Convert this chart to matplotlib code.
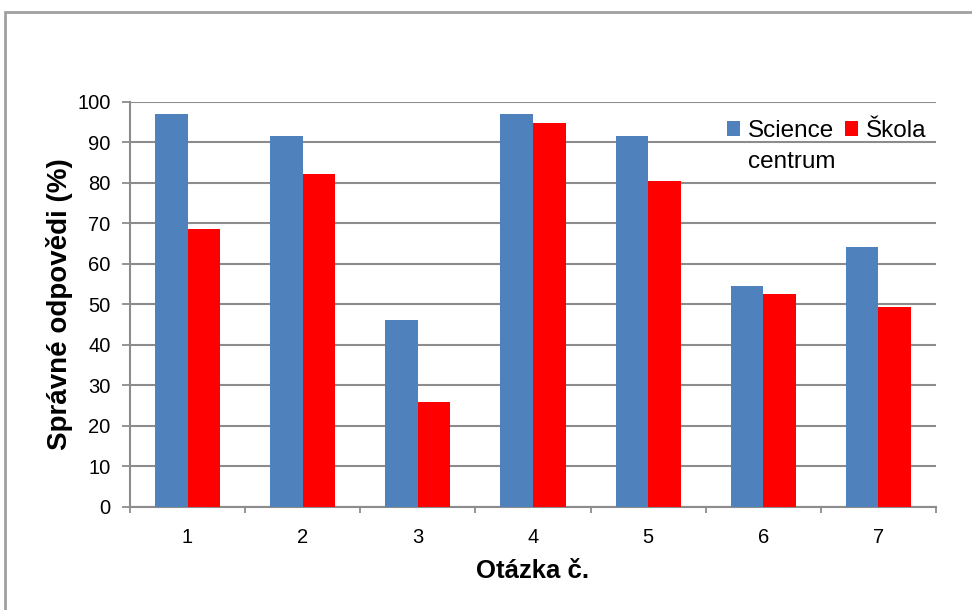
import matplotlib.pyplot as plt
from matplotlib.patches import Rectangle
import numpy as np

plt.rcParams['font.family'] = ['Liberation Sans', 'DejaVu Sans']

# data
questions = ["1", "2", "3", "4", "5", "6", "7"]
science = [97.0, 91.6, 46.2, 97.0, 91.6, 54.6, 64.1]
skola = [68.6, 82.3, 25.8, 94.7, 80.5, 52.5, 49.4]
labels = ["Science", "Škola"]

blue = "#4F81BD"
red = "#FF0000"
grey = "#8C8C8C"

fig = plt.figure(figsize=(9.72, 6.1), dpi=100)
ax = fig.add_axes([0.1337, 0.1689, 0.8292, 0.6639])

# outer frame of the pasted chart
fig.patches.append(Rectangle((5 / 972, -0.2), 2.0, 1.2 - 12 / 610,
                             transform=fig.transFigure, fill=False,
                             edgecolor="#A0A0A0", linewidth=2))

x = np.arange(len(questions))
w = 0.283
ax.bar(x - w / 2, science, w, color=blue, label=labels[0], zorder=3)
ax.bar(x + w / 2, skola, w, color=red, label=labels[1], zorder=3)

ax.set_xlim(-0.5, len(questions) - 0.5)
ax.set_ylim(0, 100)
ax.set_yticks(range(0, 101, 10))
ax.set_xticks(x)
ax.set_xticklabels(questions)
ax.set_xticks(np.arange(-0.5, len(questions), 1), minor=True)
ax.tick_params(axis="x", which="major", length=0, labelsize=14.5, pad=15)
ax.tick_params(axis="x", which="minor", length=4.5, width=1.3, color=grey)
ax.tick_params(axis="y", length=6, width=1.3, color=grey, labelsize=14.5, pad=8)

ax.grid(axis="y", color=grey, linewidth=1.5, zorder=0)
for s in ["top", "right"]:
    ax.spines[s].set_visible(False)
ax.spines["left"].set_color(grey)
ax.spines["bottom"].set_color(grey)
ax.spines["left"].set_linewidth(1.5)
ax.spines["bottom"].set_linewidth(1.5)

ax.set_xlabel("Otázka č.", fontsize=18.5, fontweight="bold", labelpad=9)
ax.set_ylabel("Správné odpovědi (%)", fontsize=20, fontweight="bold", labelpad=3)

leg = ax.legend(loc="center left", bbox_to_anchor=(0.7407, 0.928), ncol=2,
                frameon=False, fontsize=17.5, handlelength=0.55, handleheight=0.55,
                handletextpad=0.3, columnspacing=0.45, borderaxespad=0, borderpad=0)
leg.set_zorder(5)
ax.text(0.7667, 0.837, "centrum", transform=ax.transAxes, fontsize=17.5,
        va="baseline", ha="left", zorder=5)

plt.savefig("out.png", dpi=100)
